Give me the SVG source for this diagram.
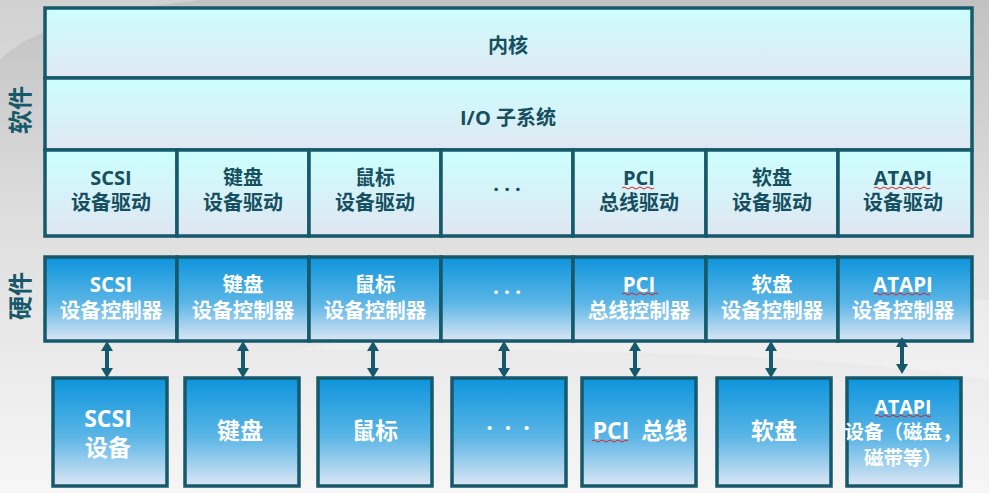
<svg xmlns="http://www.w3.org/2000/svg" width="989" height="493" viewBox="0 0 989 493">
<defs>
<linearGradient id="bg" x1="0" y1="0" x2="0" y2="1">
<stop offset="0" stop-color="#c2c2c2"/>
<stop offset="0.45" stop-color="#dedede"/>
<stop offset="1" stop-color="#f6f6f6"/>
</linearGradient>
<linearGradient id="sw" x1="0" y1="0" x2="0" y2="1">
<stop offset="0" stop-color="#ccffff"/>
<stop offset="1" stop-color="#e0e6f2"/>
</linearGradient>
<linearGradient id="hw" x1="0" y1="0" x2="0" y2="1">
<stop offset="0" stop-color="#0d94dc"/>
<stop offset="0.55" stop-color="#5cb6e6"/>
<stop offset="1" stop-color="#dce6f4"/>
</linearGradient>
<path id="arrow" d="M0,0 L6,10 L2,10 L2,27 L6,27 L0,37 L-6,27 L-2,27 L-2,10 L-6,10 z"/>
<style>
.sw{fill:url(#sw);stroke:#16596a;stroke-width:3.5}
.hw{fill:url(#hw);stroke:#16596a;stroke-width:3.5}
.st{font-family:"Open Sans","Noto Sans CJK SC",sans-serif;font-weight:bold;fill:#164f60;text-anchor:middle;dominant-baseline:central;font-size:20px}
.ht{font-family:"Open Sans","Noto Sans CJK SC",sans-serif;font-weight:bold;fill:#ffffff;text-anchor:middle;dominant-baseline:central;font-size:20.5px}
.bt{font-size:23px;white-space:pre}
.at{font-size:19.5px}
.lab{font-family:"Noto Sans CJK SC",sans-serif;font-weight:bold;fill:#16596a;text-anchor:middle;dominant-baseline:central;font-size:24px}
.arr{fill:#16596a}
.sq{stroke:#e02020;stroke-width:1;fill:none}
</style>
</defs>
<rect x="0" y="0" width="989" height="493" fill="url(#bg)"/>
<path d="M0,60 C40,20 120,10 200,0 L0,0 z" fill="#ffffff" opacity="0.25"/>
<path d="M300,350 C550,300 800,290 989,300 L989,380 C800,350 560,350 300,350 z" fill="#ffffff" opacity="0.25"/>

<text class="lab" transform="translate(18,110) rotate(-90)">软件</text>
<text class="lab" transform="translate(18,296) rotate(-90)">硬件</text>

<g id="kernel"><rect class="sw" x="45" y="8" width="927" height="70"/><text class="st" x="508" y="45">内核</text></g>
<g id="io"><rect class="sw" x="45" y="78" width="927" height="72"/><text class="st" x="508" y="117">I/O 子系统</text></g>

<g id="drv-scsi"><rect class="sw" x="45" y="150" width="132" height="86"/><text class="st" x="111" y="177">SCSI</text><text class="st" x="111" y="202">设备驱动</text></g>
<g id="drv-kbd"><rect class="sw" x="177" y="150" width="132" height="86"/><text class="st" x="243" y="177">键盘</text><text class="st" x="243" y="202">设备驱动</text></g>
<g id="drv-mouse"><rect class="sw" x="309" y="150" width="132" height="86"/><text class="st" x="375" y="177">鼠标</text><text class="st" x="375" y="202">设备驱动</text></g>
<g id="drv-dots"><rect class="sw" x="441" y="150" width="132" height="86"/><text class="st" x="507" y="188">·  ·  ·</text></g>
<g id="drv-pci"><rect class="sw" x="573" y="150" width="133" height="86"/><text class="st" x="639" y="177">PCI</text><text class="st" x="639" y="202">总线驱动</text><path class="sq" d="M622,188 q2,-2 4,0 t4,0 t4,0 t4,0 t4,0 t4,0 t4,0 t4,0"/></g>
<g id="drv-floppy"><rect class="sw" x="706" y="150" width="132" height="86"/><text class="st" x="772" y="177">软盘</text><text class="st" x="772" y="202">设备驱动</text></g>
<g id="drv-atapi"><rect class="sw" x="838" y="150" width="134" height="86"/><text class="st" x="903" y="177">ATAPI</text><text class="st" x="903" y="202">设备驱动</text><path class="sq" d="M874,188 q2,-2 4,0 t4,0 t4,0 t4,0 t4,0 t4,0 t4,0 t4,0 t4,0 t4,0 t4,0 t4,0 t4,0 t4,0"/></g>

<g id="hw-scsi"><rect class="hw" x="45" y="257" width="132" height="84"/><text class="ht" x="111" y="284">SCSI</text><text class="ht" x="111" y="310">设备控制器</text></g>
<g id="hw-kbd"><rect class="hw" x="177" y="257" width="132" height="84"/><text class="ht" x="243" y="284">键盘</text><text class="ht" x="243" y="310">设备控制器</text></g>
<g id="hw-mouse"><rect class="hw" x="309" y="257" width="132" height="84"/><text class="ht" x="375" y="284">鼠标</text><text class="ht" x="375" y="310">设备控制器</text></g>
<g id="hw-dots"><rect class="hw" x="441" y="257" width="132" height="84"/><text class="ht" x="507" y="292">·  ·  ·</text></g>
<g id="hw-pci"><rect class="hw" x="573" y="257" width="133" height="84"/><text class="ht" x="639" y="284">PCI</text><text class="ht" x="639" y="310">总线控制器</text><path class="sq" d="M622,294 q2,-2 4,0 t4,0 t4,0 t4,0 t4,0 t4,0 t4,0 t4,0 t4,0"/></g>
<g id="hw-floppy"><rect class="hw" x="706" y="257" width="132" height="84"/><text class="ht" x="772" y="284">软盘</text><text class="ht" x="772" y="310">设备控制器</text></g>
<g id="hw-atapi"><rect class="hw" x="838" y="257" width="134" height="84"/><text class="ht" x="903" y="284">ATAPI</text><text class="ht" x="903" y="310">设备控制器</text><path class="sq" d="M874,294 q2,-2 4,0 t4,0 t4,0 t4,0 t4,0 t4,0 t4,0 t4,0 t4,0 t4,0 t4,0 t4,0 t4,0 t4,0"/></g>

<g id="dev-scsi"><rect class="hw" x="53" y="378" width="114" height="108"/><text class="ht bt" x="108" y="418">SCSI</text><text class="ht bt" x="108" y="447">设备</text></g>
<g id="dev-kbd"><rect class="hw" x="185" y="378" width="114" height="108"/><text class="ht bt" x="240" y="430">键盘</text></g>
<g id="dev-mouse"><rect class="hw" x="318" y="378" width="114" height="108"/><text class="ht bt" x="375" y="430">鼠标</text></g>
<g id="dev-dots"><rect class="hw" x="452" y="378" width="114" height="108"/><text class="ht bt" x="508" y="427">·  ·  ·</text></g>
<g id="dev-pci"><rect class="hw" x="582" y="378" width="114" height="108"/><text class="ht bt" x="640" y="430">PCI  总线</text><path class="sq" d="M592,441 q2,-2 4,0 t4,0 t4,0 t4,0 t4,0 t4,0 t4,0 t4,0 t4,0"/></g>
<g id="dev-floppy"><rect class="hw" x="717" y="378" width="114" height="108"/><text class="ht bt" x="774" y="430">软盘</text></g>
<g id="dev-atapi"><rect class="hw" x="847" y="378" width="114" height="108"/><text class="ht at" x="903" y="406">ATAPI</text><text class="ht at" x="903" y="431">设备（磁盘，</text><text class="ht at" x="903" y="457">磁带等）</text><path class="sq" d="M875,416 q2,-2 4,0 t4,0 t4,0 t4,0 t4,0 t4,0 t4,0 t4,0 t4,0 t4,0 t4,0 t4,0 t4,0 t4,0"/></g>

<g id="connectors">
<use href="#arrow" class="arr" x="107" y="341"/>
<use href="#arrow" class="arr" x="243" y="341"/>
<use href="#arrow" class="arr" x="373" y="341"/>
<use href="#arrow" class="arr" x="504" y="341"/>
<use href="#arrow" class="arr" x="635" y="341"/>
<use href="#arrow" class="arr" x="771" y="341"/>
<use href="#arrow" class="arr" x="902" y="337"/>
</g>
</svg>
